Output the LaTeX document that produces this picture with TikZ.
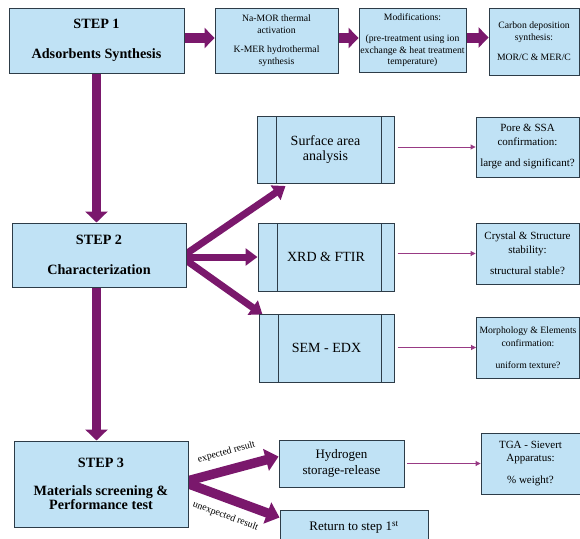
\documentclass[tikz,border=0pt]{standalone}
\usepackage{fontspec}
\setmainfont{Liberation Serif}
\usepackage{xcolor}
\usepackage{tikz}
\usetikzlibrary{arrows.meta, positioning, calc, backgrounds}

\definecolor{boxblue}{RGB}{192,226,245}
\definecolor{boxline}{RGB}{45,60,72}
\definecolor{flowpurple}{RGB}{122,24,108}
\definecolor{linkpurple}{RGB}{152,58,132}

\tikzset{
  stepbox/.style={draw=boxline, fill=boxblue, line width=1pt, align=center, inner sep=0pt,
    font=\fontsize{14.2}{15}\selectfont\bfseries},
  infobox/.style={draw=boxline, fill=boxblue, line width=0.9pt, align=center, inner sep=0pt,
    font=\fontsize{9.7}{11.5}\selectfont},
  checkbox/.style={draw=boxline, fill=boxblue, line width=0.9pt, align=center, inner sep=0pt,
    font=\fontsize{11}{13.5}\selectfont},
  plainbox/.style={draw=boxline, fill=boxblue, line width=0.9pt, align=center, inner sep=0pt,
    font=\fontsize{13}{16}\selectfont},
  procbox/.style={plainbox, line width=1pt, font=\fontsize{14}{15}\selectfont,
    path picture={
      \draw[boxline, line width=1pt]
        ([xshift=19pt]path picture bounding box.north west) -- ([xshift=19pt]path picture bounding box.south west);
      \draw[boxline, line width=1pt]
        ([xshift=-12.5pt]path picture bounding box.north east) -- ([xshift=-12.5pt]path picture bounding box.south east);
    }},
  bigarrow/.style={flowpurple, line width=10pt, -{Triangle[length=10pt,width=20pt]}},
  downarrow/.style={flowpurple, line width=9pt, -{Triangle[length=11pt,width=22pt]}},
  branch/.style={flowpurple, line width=7pt, -{Triangle[length=12pt,width=17pt]}},
  resultarrow/.style={flowpurple, line width=9.5pt, -{Triangle[length=13pt,width=22pt]}},
  thinarrow/.style={linkpurple, line width=0.9pt, -{Triangle[length=5pt,width=5pt]}, shorten <=3pt},
  armlabel/.style={black, font=\fontsize{9.8}{10}\selectfont}
}

\begin{document}
\begin{tikzpicture}[x=1pt, y=-1pt]

\useasboundingbox (0,0) rectangle (580,538);

% ---- Step 1 row ----
\node[stepbox, minimum width=175pt, minimum height=65pt] (step1) at (96.5,40.5)
  {STEP 1\\[15pt]Adsorbents Synthesis};
\node[infobox, minimum width=123pt, minimum height=65pt] (namor) at (276.5,40.5)
  {Na-MOR thermal\\activation\\[8pt]K-MER hydrothermal\\synthesis};
\node[infobox, minimum width=107pt, minimum height=64pt] (modif) at (412.5,40)
  {Modifications:\\[10pt](pre-treatment using ion\\exchange \& heat treatment\\temperature)};
\node[infobox, minimum width=90pt, minimum height=67pt] (carbon) at (534,41.5)
  {Carbon deposition\\synthesis:\\[9pt]MOR/C \& MER/C};

% ---- Step 2 row ----
\node[stepbox, minimum width=174pt, minimum height=64pt] (step2) at (99,255)
  {STEP 2\\[15pt]Characterization};
\node[procbox, minimum width=137pt, minimum height=67pt] (surf) at (325.5,149.5)
  {Surface area\\analysis};
\node[procbox, minimum width=136pt, minimum height=68pt] (xrd) at (326,257)
  {XRD \& FTIR};
\node[procbox, minimum width=135pt, minimum height=68pt] (sem) at (326.5,348)
  {SEM - EDX};
\node[checkbox, minimum width=103pt, minimum height=60pt] (pore) at (527.5,147)
  {Pore \& SSA\\confirmation:\\[8pt]large and significant?};
\node[checkbox, minimum width=103pt, minimum height=61pt] (crystal) at (527.5,253.5)
  {Crystal \& Structure\\stability:\\[8pt]structural stable?};
\node[checkbox, minimum width=103pt, minimum height=61pt, font=\fontsize{9.7}{13.5}\selectfont]
  (morph) at (528,347.5)
  {Morphology \& Elements\\confirmation:\\[8pt]uniform texture?};

% ---- Step 3 row ----
\node[stepbox, minimum width=174pt, minimum height=86pt, font=\fontsize{14.2}{14.5}\selectfont\bfseries]
  (step3) at (101,484)
  {STEP 3\\[13.5pt]Materials screening \&\\Performance test};
\node[plainbox, minimum width=125pt, minimum height=47pt] (hyd) at (341.5,463.5)
  {Hydrogen\\storage-release};
\node[plainbox, minimum width=148pt, minimum height=34pt] (ret) at (354,527)
  {Return to step 1\textsuperscript{st}};
\node[checkbox, minimum width=99pt, minimum height=61pt] (tga) at (530.5,463.5)
  {TGA - Sievert\\Apparatus:\\[8pt]\% weight?};

% ---- Connectors ----
\begin{scope}[on background layer]
% top row
\draw[bigarrow] ([yshift=2.5pt]step1.east) -- ([yshift=2.5pt]step1.east -| namor.west);
\draw[bigarrow] ([yshift=2.5pt]namor.east) -- ([yshift=2.5pt]namor.east -| modif.west);
\draw[bigarrow] ([yshift=2.5pt]modif.east) -- ([yshift=2.5pt]modif.east -| carbon.west);

% steps
\draw[downarrow] (step1.south) -- (step1.south |- step2.north);
\draw[downarrow] (step1.south |- step2.south) -- (step1.south |- step3.north);

% characterization branches
\draw[branch] ([xshift=-5pt,yshift=-2pt]step2.east) -- ([xshift=-40pt,yshift=-2.5pt]surf.south);
\draw[branch] ([xshift=-5pt,yshift=-2pt]step2.east) -- (xrd.west);
\draw[branch] ([xshift=-5pt,yshift=-2pt]step2.east) -- ([xshift=4pt,yshift=-1pt]sem.north west);

% results
\draw[resultarrow] ([xshift=-5pt,yshift=2pt]step3.east) -- ([yshift=7pt]hyd.west)
  node[armlabel, midway, sloped, above=5pt] {expected result};
\draw[resultarrow] ([xshift=-5pt,yshift=2pt]step3.east) -- ([yshift=9.5pt]ret.west)
  node[armlabel, midway, sloped, below=5pt] {unexpected result};
\end{scope}

% thin links to checks
\draw[thinarrow] (pore.west -| surf.east) -- (pore.west);
\draw[thinarrow] (crystal.west -| xrd.east) -- (crystal.west);
\draw[thinarrow] (morph.west -| sem.east) -- (morph.west);
\draw[thinarrow] (tga.west -| hyd.east) -- (tga.west);

\end{tikzpicture}
\end{document}
